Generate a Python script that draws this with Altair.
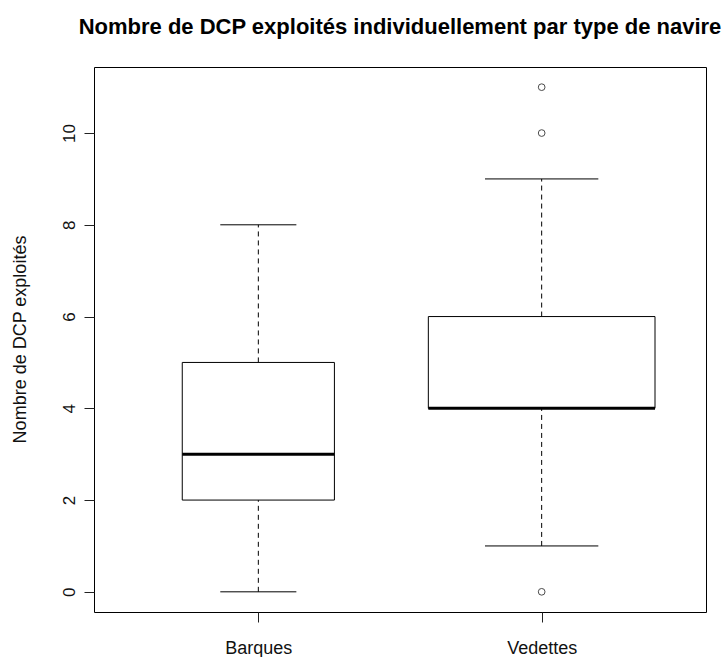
import altair as alt
import pandas as pd

# Summary statistics of the number of FADs (DCP) worked per boat type
types = ["Barques", "Vedettes"]
whisker_low = [0, 1]
q1 = [2, 4]
median = [3, 4]
q3 = [5, 6]
whisker_high = [8, 9]

# Points beyond the whiskers
outlier_type = ["Vedettes", "Vedettes", "Vedettes"]
outlier_value = [0, 10, 11]

# Relative box widths (variable width boxes, widest = 0.8)
box_width = {"Barques": 0.537, "Vedettes": 0.8}

FONT = "Liberation Sans"
pos = {t: i + 1 for i, t in enumerate(types)}

stats = pd.DataFrame({
    "type": types,
    "lo": whisker_low,
    "q1": q1,
    "med": median,
    "q3": q3,
    "hi": whisker_high,
})
stats["pos"] = stats["type"].map(pos)
stats["left"] = stats["pos"] - stats["type"].map(box_width) / 2
stats["right"] = stats["pos"] + stats["type"].map(box_width) / 2
stats["sleft"] = stats["pos"] - stats["type"].map(box_width) / 4
stats["sright"] = stats["pos"] + stats["type"].map(box_width) / 4

outliers = pd.DataFrame({"type": outlier_type, "value": outlier_value})
outliers["pos"] = outliers["type"].map(pos)

label_array = "[" + ",".join(f"'{t}'" for t in types) + "]"

xscale = alt.Scale(domain=[0.42, 2.58], nice=False, zero=False)
yscale = alt.Scale(domain=[-0.44, 11.44], nice=False, zero=False)

x_axis = alt.Axis(
    values=[1, 2], labelExpr=f"{label_array}[datum.value - 1]", title=None,
    grid=False, domain=False, tickSize=10, tickColor="#222", labelFontSize=18,
    labelFont=FONT, labelColor="#111", labelPadding=17, labelBaseline="top",
)
y_axis = alt.Axis(
    values=[0, 2, 4, 6, 8, 10], format="d", title="Nombre de DCP exploités",
    grid=False, domain=False, tickSize=10, tickColor="#222", labelAngle=-90,
    labelAlign="center", labelBaseline="bottom", labelPadding=6,
    labelFontSize=17, labelFont=FONT, labelColor="#111",
    titleFontSize=18, titleFont=FONT, titleFontWeight="normal", titleColor="#111",
    titleAngle=-90, titleX=-74, titleY=272, titleAlign="center", titleBaseline="middle",
)

base = alt.Chart(stats)

whisker_up = base.mark_rule(color="black", strokeWidth=1, strokeDash=[5, 4]).encode(
    x=alt.X("pos:Q", scale=xscale, axis=x_axis),
    y=alt.Y("q3:Q", scale=yscale, axis=y_axis),
    y2="hi:Q",
)
whisker_down = base.mark_rule(color="black", strokeWidth=1, strokeDash=[5, 4]).encode(
    x="pos:Q", y="lo:Q", y2="q1:Q",
)
staple_hi = base.mark_rule(color="black", strokeWidth=1).encode(
    x="sleft:Q", x2="sright:Q", y="hi:Q",
)
staple_lo = base.mark_rule(color="black", strokeWidth=1).encode(
    x="sleft:Q", x2="sright:Q", y="lo:Q",
)
boxes = base.mark_rect(fill="white", stroke="black", strokeWidth=1).encode(
    x="left:Q", x2="right:Q", y="q1:Q", y2="q3:Q",
)
medians = base.mark_rule(color="black", strokeWidth=3).encode(
    x="left:Q", x2="right:Q", y="med:Q",
)
points = alt.Chart(outliers).mark_point(
    shape="circle", filled=False, color="black", size=45, strokeWidth=1
).encode(x="pos:Q", y="value:Q")

chart = alt.layer(
    whisker_up, whisker_down, staple_hi, staple_lo, boxes, medians, points
).properties(
    width=612,
    height=545,
    title=alt.TitleParams(
        "Nombre de DCP exploités individuellement par type de navire",
        font=FONT, fontSize=22, fontWeight="bold", color="black",
        anchor="middle", frame="group", offset=28,
    ),
    autosize=alt.AutoSizeParams(type="none"),
    padding={"left": 94, "top": 67, "right": 20, "bottom": 45},
).configure(
    background="white",
    view=alt.ViewConfig(stroke="black", strokeWidth=1, fill="white"),
)

chart.save("out.html", embed_options={"renderer": "svg", "actions": False})
